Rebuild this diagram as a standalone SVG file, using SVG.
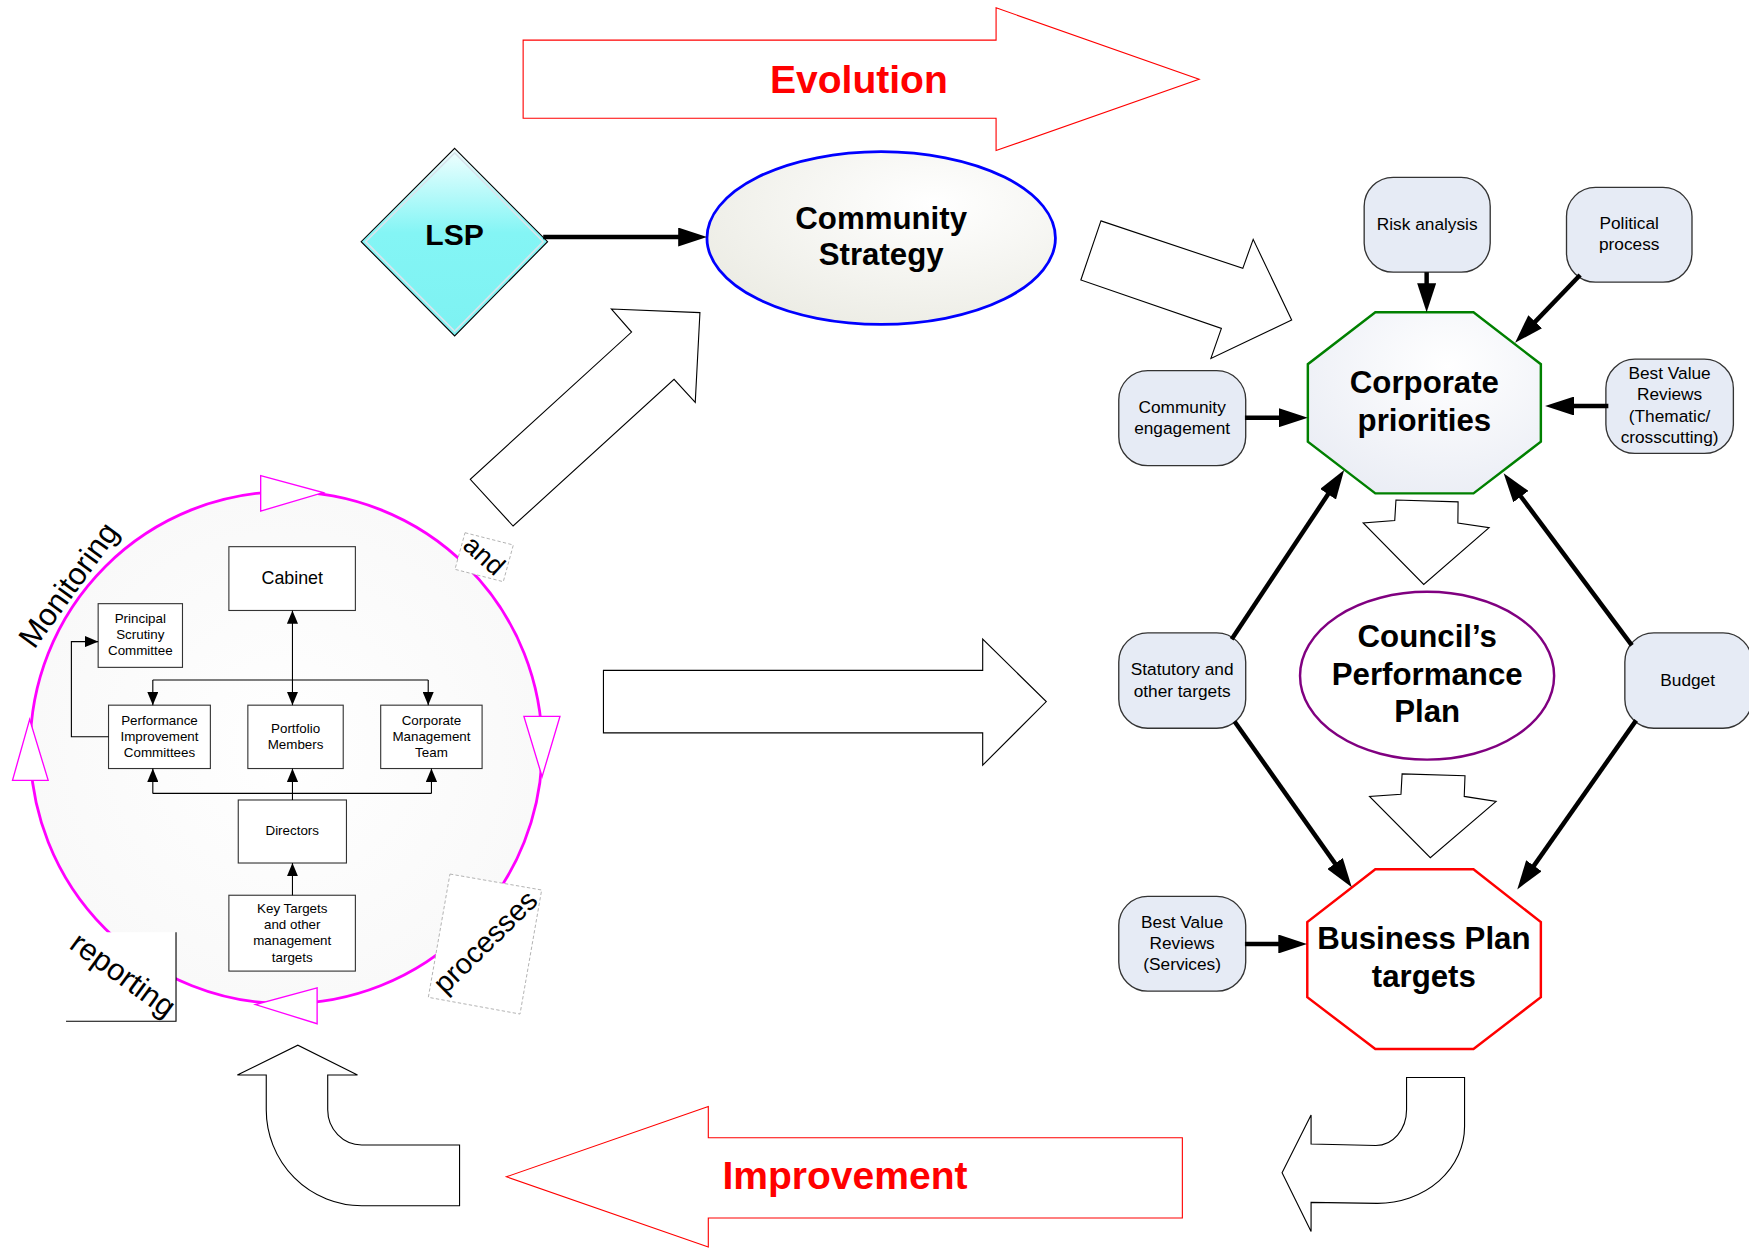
<svg xmlns="http://www.w3.org/2000/svg" width="1749" height="1248" viewBox="0 0 1749 1248">
<defs>
<linearGradient id="gLsp" x1="0" y1="0" x2="0" y2="1"><stop offset="0" stop-color="#f2ffff"/><stop offset="0.45" stop-color="#84f5f5"/><stop offset="1" stop-color="#7df2f2"/></linearGradient>
<radialGradient id="gCs" cx="0.65" cy="0.3" r="0.8"><stop offset="0" stop-color="#ffffff"/><stop offset="1" stop-color="#ebebe3"/></radialGradient>
<radialGradient id="gCp" cx="0.6" cy="0.3" r="0.8"><stop offset="0" stop-color="#ffffff"/><stop offset="1" stop-color="#e9ecf4"/></radialGradient>
<radialGradient id="gCir" cx="0.5" cy="0.5" r="0.5"><stop offset="0" stop-color="#ffffff"/><stop offset="1" stop-color="#f9f9f9"/></radialGradient>
<marker id="ah" markerUnits="userSpaceOnUse" viewBox="0 0 26 17" markerWidth="26" markerHeight="17" refX="12" refY="8.5" orient="auto"><path d="M0,0 L26,8.5 L0,17 Z" fill="#000"/></marker>
<marker id="sa" markerUnits="userSpaceOnUse" viewBox="0 0 12 10" markerWidth="12" markerHeight="10" refX="12" refY="5" orient="auto-start-reverse"><path d="M0,0 L12,5 L0,10 Z" fill="#000"/></marker>
</defs>
<style>
.t{font-family:"Liberation Sans",Arial,sans-serif;fill:#000}
.b{font-weight:bold}
.c{text-anchor:middle}
.box{fill:#e6ebf5;stroke:#333;stroke-width:1.2}
.blk{fill:#fff;stroke:#000;stroke-width:1}
.red{fill:#fff;stroke:#ff0000;stroke-width:1}
.thick{stroke:#000;stroke-width:4;fill:none;marker-end:url(#ah)}
.thin{stroke:#000;stroke-width:1;fill:none}
.ta{stroke:#000;stroke-width:1;fill:none;marker-end:url(#sa)}
.org{fill:#fff;stroke:#333;stroke-width:1}
.mg{fill:#fff;stroke:#ff00ff;stroke-width:1.2}
.dash{fill:#fff;stroke:#aaa;stroke-width:0.8;stroke-dasharray:3 2}
.s16{font-size:15.5px}
.s12{font-size:12px}
.big{font-size:28px}
</style>
<rect width="1749" height="1248" fill="#fff"/>
<g transform="scale(1.11543)">

<g id="evolution">
<polygon class="red" points="469,36 893,36 893,7 1075,71 893,135 893,106 469,106"/>
<text class="t b c" x="770" y="83" font-size="35" style="fill:#ff0000">Evolution</text>
</g>
<g id="improvement">
<polygon class="red" points="454,1055 635,992 635,1020 1060,1020 1060,1092 635,1092 635,1118"/>
<text class="t b c" x="757.5" y="1066" font-size="35" style="fill:#ff0000">Improvement</text>
</g>

<g id="block-arrows">
<polygon class="blk" points="548,277 627.5,280.3 623.3,360.7 604.3,340.1 460,471.6 421.6,429.7 566.2,297.7"/>
<polygon class="blk" points="987,198 1114.2,240.6 1123.5,214.6 1158,286.9 1085.6,321.3 1095,294.4 969,251"/>
<polygon class="blk" points="541,601 881,601 881,573 938,629 881,686 881,657 541,657"/>
<polygon class="blk" points="1251.5,448.3 1307.2,449.9 1307,469 1335,473 1276.4,524 1222.1,468.8 1250.4,466.6"/>
<polygon class="blk" points="1257,693.8 1313.4,695.4 1312.7,714 1341.3,718.5 1282.3,769 1227.8,714 1256,712.1"/>
<path class="blk" d="M238.7,963.8 L212.8,963.8 L267,937 L320.5,963.8 L293.8,963.8 L293.8,995 A30.5,31.5 0 0 0 324.3,1026.5 L412,1026.5 L412,1081 L324.3,1081 A85.6,86 0 0 1 238.7,995 Z"/>
<path class="blk" d="M1261,966 L1313,966 L1313,1010 A78,68.8 0 0 1 1235,1078.8 L1175.4,1078 L1175.4,1104 L1149.4,1051.4 L1175.4,999.6 L1175.4,1025.6 L1233.5,1027 A27.5,32 0 0 0 1261,995 Z"/>
</g>

<g id="lsp">
<polygon points="407.6,133 490.9,216.7 407.6,301.2 323.8,216.7" fill="url(#gLsp)" stroke="#000" stroke-width="1"/>
<polygon points="407.6,137 487,216.7 407.6,297 327.8,216.7" fill="none" stroke="#d8e4ec" stroke-width="1.5"/>
<text class="t b c" x="407.5" y="220" font-size="27">LSP</text>
</g>

<g id="community-strategy">
<ellipse cx="790" cy="213.4" rx="156.2" ry="77.4" fill="url(#gCs)" stroke="#0000ff" stroke-width="2.5"/>
<text class="t b c big" x="790" y="205">Community</text>
<text class="t b c big" x="790" y="238">Strategy</text>
</g>

<g id="corporate-priorities">
<polygon points="1233,280 1321,280 1381.4,326.5 1381.4,396 1321,442.3 1233,442.3 1172.5,396 1172.5,326.5" fill="url(#gCp)" stroke="#008000" stroke-width="2.2"/>
<text class="t b c big" x="1277" y="352">Corporate</text>
<text class="t b c big" x="1277" y="386">priorities</text>
</g>

<g id="councils-plan">
<ellipse cx="1279.4" cy="605.8" rx="113.9" ry="75.2" fill="#fff" stroke="#800080" stroke-width="2.2"/>
<text class="t b c big" x="1279.5" y="580">Council’s</text>
<text class="t b c big" x="1279.5" y="614">Performance</text>
<text class="t b c big" x="1279.5" y="647">Plan</text>
</g>

<g id="business-plan">
<polygon points="1233,779.3 1321,779.3 1381.4,826.7 1381.4,894 1321,940.5 1233,940.5 1172,894 1172,826.7" fill="#fff" stroke="#ff0000" stroke-width="2.2"/>
<text class="t b c big" x="1276.5" y="851">Business Plan</text>
<text class="t b c big" x="1276.5" y="885">targets</text>
</g>

<g id="risk-analysis">
<rect class="box" x="1223" y="159" width="113" height="85" rx="26"/>
<text class="t c s16" x="1279.5" y="206">Risk analysis</text>
</g>
<g id="political-process">
<rect class="box" x="1404.4" y="168" width="112.5" height="85" rx="26"/>
<text class="t c s16" x="1460.6" y="205.5">Political</text>
<text class="t c s16" x="1460.6" y="224.5">process</text>
</g>
<g id="best-value-thematic">
<rect class="box" x="1439.7" y="322" width="114.3" height="84.5" rx="26"/>
<text class="t c s16" x="1496.8" y="339.5">Best Value</text>
<text class="t c s16" x="1496.8" y="358.5">Reviews</text>
<text class="t c s16" x="1496.8" y="378">(Thematic/</text>
<text class="t c s16" x="1496.8" y="397">crosscutting)</text>
</g>
<g id="community-engagement">
<rect class="box" x="1003" y="332.3" width="113.8" height="85.2" rx="26"/>
<text class="t c s16" x="1059.8" y="370.5">Community</text>
<text class="t c s16" x="1059.8" y="389.5">engagement</text>
</g>
<g id="statutory-targets">
<rect class="box" x="1003" y="567.4" width="113.8" height="85.5" rx="26"/>
<text class="t c s16" x="1059.8" y="605">Statutory and</text>
<text class="t c s16" x="1059.8" y="625">other targets</text>
</g>
<g id="budget">
<rect class="box" x="1456.7" y="567.4" width="114" height="85.5" rx="26"/>
<text class="t c s16" x="1513" y="615">Budget</text>
</g>
<g id="best-value-services">
<rect class="box" x="1003" y="803.6" width="113.8" height="85" rx="26"/>
<text class="t c s16" x="1059.8" y="832">Best Value</text>
<text class="t c s16" x="1059.8" y="851">Reviews</text>
<text class="t c s16" x="1059.8" y="870">(Services)</text>
</g>

<g id="cycle">
<circle cx="256.6" cy="670.3" r="229.5" fill="url(#gCir)" stroke="#ff00ff" stroke-width="2.5"/>
<polygon class="dash" points="416.9,477.6 460.2,488.6 451.2,521.5 407.9,510.4"/>
<polygon class="dash" points="403.4,783.6 485.6,797.9 466.2,909.1 384,894.1"/>
<rect x="59.2" y="835.8" width="98.6" height="80" fill="#fff"/>
<polyline points="157.8,835.8 157.8,915.6 59.2,915.6" fill="none" stroke="#000" stroke-width="1"/>
<polygon class="mg" points="233.7,426.4 289.8,441.6 233.7,458.2"/>
<polygon class="mg" points="469.7,642.2 502,642.2 486,696.3"/>
<polygon class="mg" points="284.3,885.6 229,900.6 284.3,917.8"/>
<polygon class="mg" points="11.2,699.6 26.6,644.9 43.2,699.6"/>
<text class="t c" font-size="28" transform="translate(61,524) rotate(-54)" dy="10">Monitoring</text>
<text class="t c" font-size="24" transform="translate(434,498) rotate(42)" dy="8">and</text>
<text class="t c" font-size="26" transform="translate(436.3,845.5) rotate(-44.5)" dy="7">processes</text>
<text class="t c" font-size="27.5" transform="translate(109,875.6) rotate(36)" dy="7">reporting</text>
</g>

<g id="cabinet">
<rect class="org" x="205.2" y="490.1" width="113.4" height="57.2"/>
<text class="t c" font-size="16" x="262" y="523.5">Cabinet</text>
</g>
<g id="principal-scrutiny">
<rect class="org" x="88" y="541.2" width="75.6" height="57.1"/>
<text class="t c s12" x="125.8" y="558.5">Principal</text>
<text class="t c s12" x="125.8" y="572.8">Scrutiny</text>
<text class="t c s12" x="125.8" y="587.4">Committee</text>
</g>
<g id="performance-improvement">
<rect class="org" x="97.3" y="632.2" width="91.3" height="56.8"/>
<text class="t c s12" x="143" y="649.8">Performance</text>
<text class="t c s12" x="143" y="664.1">Improvement</text>
<text class="t c s12" x="143" y="678.7">Committees</text>
</g>
<g id="portfolio-members">
<rect class="org" x="222.2" y="632.2" width="85.5" height="56.8"/>
<text class="t c s12" x="265" y="657.2">Portfolio</text>
<text class="t c s12" x="265" y="671.4">Members</text>
</g>
<g id="corporate-management">
<rect class="org" x="341.3" y="632.2" width="90.9" height="56.8"/>
<text class="t c s12" x="386.8" y="649.8">Corporate</text>
<text class="t c s12" x="386.8" y="664.1">Management</text>
<text class="t c s12" x="386.8" y="678.7">Team</text>
</g>
<g id="directors">
<rect class="org" x="213.6" y="717.2" width="97" height="56.5"/>
<text class="t c s12" x="262" y="749">Directors</text>
</g>
<g id="key-targets">
<rect class="org" x="205.2" y="802.6" width="113.4" height="68"/>
<text class="t c s12" x="262" y="818.2">Key Targets</text>
<text class="t c s12" x="262" y="833.2">and other</text>
<text class="t c s12" x="262" y="847.6">management</text>
<text class="t c s12" x="262" y="862.4">targets</text>
</g>

<g id="connectors">
<line class="thick" x1="487" y1="212.5" x2="620" y2="212.5"/>
<line class="thick" x1="1279" y1="244" x2="1279" y2="266"/>
<line class="thick" x1="1416.6" y1="246.6" x2="1368" y2="297.1"/>
<line class="thick" x1="1441.9" y1="364" x2="1399.2" y2="364"/>
<line class="thick" x1="1116.1" y1="374.5" x2="1158.5" y2="374.5"/>
<line class="thick" x1="1104.2" y1="573.1" x2="1197.3" y2="433.1"/>
<line class="thick" x1="1106.8" y1="646.8" x2="1203.8" y2="783.9"/>
<line class="thick" x1="1463" y1="578.6" x2="1356.4" y2="435.6"/>
<line class="thick" x1="1466.8" y1="645.8" x2="1368.3" y2="785.9"/>
<line class="thick" x1="1116.1" y1="846.3" x2="1158" y2="846.3"/>
<line class="ta" x1="262.2" y1="547.3" x2="262.2" y2="632.2" marker-start="url(#sa)"/>
<line class="thin" x1="137" y1="609.6" x2="383.9" y2="609.6"/>
<line class="ta" x1="137" y1="609.6" x2="137" y2="632.2"/>
<line class="ta" x1="383.9" y1="609.6" x2="383.9" y2="632.2"/>
<line class="thin" x1="137" y1="711.3" x2="386.8" y2="711.3"/>
<line class="ta" x1="137" y1="711.3" x2="137" y2="689"/>
<line class="ta" x1="386.8" y1="711.3" x2="386.8" y2="689"/>
<line class="ta" x1="262.2" y1="717.2" x2="262.2" y2="689"/>
<line class="ta" x1="262.2" y1="802.6" x2="262.2" y2="773.7"/>
<polyline class="ta" points="97.3,660.5 64,660.5 64,575.2 88,575.2"/>
</g>
</g>
</svg>
